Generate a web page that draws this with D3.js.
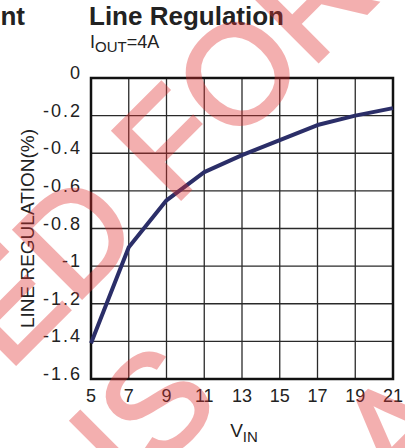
<!DOCTYPE html>
<html>
<head>
<meta charset="utf-8">
<script src="https://cdn.jsdelivr.net/npm/d3@7"></script>
<style>
  body { margin: 0; background: #fff; }
  text { font-family: "Liberation Sans", Arial, sans-serif; }
</style>
</head>
<body>
<script>
// data
var vin = [5, 7, 9, 11, 13, 15, 17, 19, 21];
var regulation = [-1.41, -0.90, -0.65, -0.50, -0.41, -0.33, -0.25, -0.20, -0.16];
var xTicks = [5, 7, 9, 11, 13, 15, 17, 19, 21];
var yTicks = [0, -0.2, -0.4, -0.6, -0.8, -1, -1.2, -1.4, -1.6];

var svg_width = 405;
var svg_height = 448;

// plot box (not "top": that name belongs to window)
var box_left = 91, box_right = 393, box_top = 78, box_bottom = 379;

var svg = d3.select('body')
            .append('svg')
            .attr('width', svg_width)
            .attr('height', svg_height);

var x = d3.scaleLinear().domain([5, 21]).range([box_left, box_right]);
var y = d3.scaleLinear().domain([-1.6, 0]).range([box_bottom, box_top]);

// grid
svg.append('g')
   .selectAll('line')
   .data(xTicks.slice(1, -1))
   .enter().append('line')
   .attr('x1', function(d) { return x(d); })
   .attr('x2', function(d) { return x(d); })
   .attr('y1', box_top)
   .attr('y2', box_bottom)
   .attr('stroke', '#2a2a2a')
   .attr('stroke-width', 1.3);

svg.append('g')
   .selectAll('line')
   .data(yTicks.slice(1, -1))
   .enter().append('line')
   .attr('x1', box_left)
   .attr('x2', box_right)
   .attr('y1', function(d) { return y(d); })
   .attr('y2', function(d) { return y(d); })
   .attr('stroke', '#2a2a2a')
   .attr('stroke-width', 1.3);

// frame
svg.append('rect')
   .attr('x', box_left)
   .attr('y', box_top)
   .attr('width', box_right - box_left)
   .attr('height', box_bottom - box_top)
   .attr('fill', 'none')
   .attr('stroke', '#111')
   .attr('stroke-width', 2.5);

// tick labels
svg.append('g')
   .selectAll('text')
   .data(yTicks)
   .enter().append('text')
   .attr('x', 82)
   .attr('y', function(d) { return y(d) + 1; })
   .attr('text-anchor', 'end')
   .attr('font-size', 18)
   .attr('letter-spacing', 2)
   .attr('fill', '#222')
   .text(function(d) { return d === 0 ? '0' : String(d); });

svg.append('g')
   .selectAll('text')
   .data(xTicks)
   .enter().append('text')
   .attr('x', function(d) { return x(d); })
   .attr('y', box_bottom + 23)
   .attr('text-anchor', 'middle')
   .attr('font-size', 18)
   .attr('fill', '#222')
   .text(function(d) { return d; });

// curve
var line = d3.line()
             .x(function(d, i) { return x(vin[i]); })
             .y(function(d) { return y(d); });

svg.append('path')
   .attr('d', line(regulation))
   .attr('fill', 'none')
   .attr('stroke', '#2b2e68')
   .attr('stroke-width', 4)
   .attr('stroke-linejoin', 'round');

// titles
svg.append('text')
   .attr('x', 25)
   .attr('y', 25)
   .attr('text-anchor', 'end')
   .attr('font-size', 26)
   .attr('font-weight', 'bold')
   .attr('fill', '#222')
   .text('nt');

svg.append('text')
   .attr('x', 89)
   .attr('y', 25)
   .attr('font-size', 26)
   .attr('font-weight', 'bold')
   .attr('fill', '#222')
   .text('Line Regulation');

var sub = svg.append('text')
   .attr('x', 90)
   .attr('y', 48)
   .attr('font-size', 18)
   .attr('fill', '#222');
sub.append('tspan').text('I');
sub.append('tspan').attr('font-size', 15).attr('dy', 4).text('OUT');
sub.append('tspan').attr('dy', -4).text('=4A');

var xl = svg.append('text')
   .attr('x', (box_left + box_right) / 2 + 2)
   .attr('y', 437)
   .attr('text-anchor', 'middle')
   .attr('font-size', 19)
   .attr('fill', '#222');
xl.append('tspan').text('V');
xl.append('tspan').attr('font-size', 15).attr('dy', 5).text('IN');

svg.append('text')
   .attr('transform', 'translate(34,' + ((box_top + box_bottom) / 2) + ') rotate(-90)')
   .attr('text-anchor', 'middle')
   .attr('font-size', 19)
   .attr('fill', '#222')
   .text('LINE REGULATION(%)');

// watermark, thickened with a stroke; opacity on the group so overlaps stay flat
var marks = [
  { t: 'ED FOR', x: 8, y: 372 },
  { t: 'IS', x: 130, y: 498 },
  { t: 'A', x: 398, y: 497 }
];
svg.append('g')
   .attr('opacity', 0.38)
   .selectAll('text')
   .data(marks)
   .enter().append('text')
   .attr('transform', function(d) { return 'translate(' + d.x + ',' + d.y + ') rotate(-45)'; })
   .attr('font-size', 140)
   .attr('fill', '#e03030')
   .attr('stroke', '#e03030')
   .attr('stroke-width', 3)
   .text(function(d) { return d.t; });
</script>
</body>
</html>
